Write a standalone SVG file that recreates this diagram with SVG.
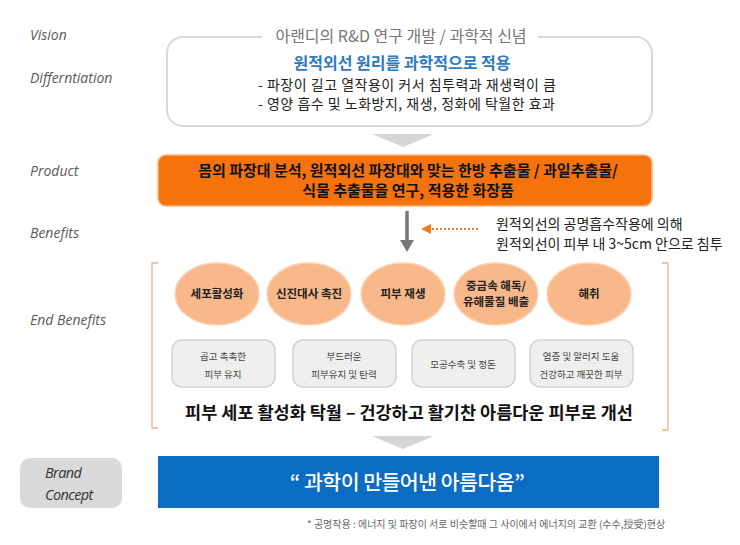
<svg xmlns="http://www.w3.org/2000/svg" width="740" height="545" viewBox="0 0 740 545">
<defs>
<style>
.kr{font-family:"Noto Sans CJK KR","Noto Sans",sans-serif}
.lab{font-family:"Open Sans","Noto Sans",sans-serif;font-style:italic;font-size:14px;fill:#5a5a5a}
.circ{fill:#f8b889;stroke:#fad2b4;stroke-width:1.5}
.ctext{font-family:"Noto Sans CJK KR",sans-serif;font-size:11.5px;font-weight:700;fill:#222;text-anchor:middle}
.gbox{fill:#efefef;stroke:#d2d2d2;stroke-width:1.5}
.gtext{font-family:"Noto Sans CJK KR",sans-serif;font-size:9.5px;fill:#444;text-anchor:middle}
.tri{fill:#d6d6d6}
.brk{fill:none;stroke:#eab48c;stroke-width:1.3}
</style>
<marker id="ah" viewBox="0 0 10 10" refX="9" refY="5" markerWidth="5" markerHeight="5" orient="auto">
<path d="M0,0 L10,5 L0,10 z" fill="#f07a1e"/>
</marker>
</defs>
<rect width="740" height="545" fill="#ffffff"/>

<g id="labels">
<text class="lab" x="30" y="40">Vision</text>
<text class="lab" x="30" y="83">Differntiation</text>
<text class="lab" x="30" y="176">Product</text>
<text class="lab" x="30" y="238">Benefits</text>
<text class="lab" x="30" y="325">End Benefits</text>
</g>

<g id="vision">
<rect x="167" y="37" width="485" height="89" rx="16" fill="#fff" stroke="#d9d9d9" stroke-width="2"/>
<rect x="262" y="28" width="276" height="16" fill="#fff"/>
<text class="kr" x="401" y="42" font-size="16" fill="#777" text-anchor="middle">아랜디의 R&amp;D 연구 개발 / 과학적 신념</text>
<text class="kr" x="402" y="69" font-size="16" font-weight="700" fill="#2e7bc0" text-anchor="middle">원적외선 원리를 과학적으로 적용</text>
<text class="kr" x="258" y="90" font-size="14" fill="#222" letter-spacing="0.5">- 파장이 길고 열작용이 커서 침투력과 재생력이 큼</text>
<text class="kr" x="258" y="109" font-size="14" fill="#222" letter-spacing="0.5">- 영양 흡수 및 노화방지, 재생, 정화에 탁월한 효과</text>
</g>

<g id="connectors">
<polygon class="tri" points="372,134 434,134 403,147"/>
<line x1="407" y1="211" x2="407" y2="242" stroke="#777" stroke-width="3.5"/>
<polygon points="400,240 414,240 407,252" fill="#777"/>
<line x1="478" y1="229" x2="422" y2="229" stroke="#f07a1e" stroke-width="2" stroke-dasharray="2,2" marker-end="url(#ah)"/>
<polygon class="tri" points="372,436 434,436 403,449"/>
</g>

<g id="product">
<rect x="158" y="155" width="494" height="51" rx="8" fill="#f5720c" stroke="#f9b688" stroke-width="1.5"/>
<text class="kr" x="408" y="176" font-size="15" font-weight="700" fill="#111" text-anchor="middle">몸의 파장대 분석, 원적외선 파장대와 맞는 한방 추출물 / 과일추출물/</text>
<text class="kr" x="408" y="196" font-size="15" font-weight="700" fill="#111" text-anchor="middle">식물 추출물을 연구, 적용한 화장품</text>
</g>

<g id="benefit-note">
<text class="kr" x="496" y="229" font-size="14" fill="#222">원적외선의 공명흡수작용에 의해</text>
<text class="kr" x="496" y="249" font-size="14" fill="#222">원적외선이 피부 내 3~5cm 안으로 침투</text>
</g>

<g id="bracket">
<path class="brk" d="M158,263 L152,263 L152,428 L158,428"/>
<path class="brk" d="M662,263 L668,263 L668,430 L662,430"/>
</g>

<g id="end-benefits">
<g id="c1"><ellipse class="circ" cx="217" cy="294" rx="42" ry="31"/><text class="ctext" x="217" y="298">세포활성화</text></g>
<g id="c2"><ellipse class="circ" cx="309" cy="294" rx="42" ry="31"/><text class="ctext" x="309" y="298">신진대사 촉진</text></g>
<g id="c3"><ellipse class="circ" cx="403" cy="294" rx="42" ry="31"/><text class="ctext" x="403" y="298">피부 재생</text></g>
<g id="c4"><ellipse class="circ" cx="496" cy="294" rx="42" ry="31"/><text class="ctext" x="496" y="290">중금속 해독/</text><text class="ctext" x="496" y="306">유해물질 배출</text></g>
<g id="c5"><ellipse class="circ" cx="589" cy="294" rx="42" ry="31"/><text class="ctext" x="589" y="298">해취</text></g>

<g id="b1"><rect class="gbox" x="172" y="340" width="103" height="47" rx="10"/><text class="gtext" x="223" y="360">곱고 촉촉한</text><text class="gtext" x="223" y="378">피부 유지</text></g>
<g id="b2"><rect class="gbox" x="293" y="340" width="103" height="47" rx="10"/><text class="gtext" x="344" y="360">부드러운</text><text class="gtext" x="344" y="378">피부유지 및 탄력</text></g>
<g id="b3"><rect class="gbox" x="412" y="340" width="103" height="47" rx="10"/><text class="gtext" x="463" y="368">모공수축 및 정돈</text></g>
<g id="b4"><rect class="gbox" x="530" y="340" width="103" height="47" rx="10"/><text class="gtext" x="581" y="360">염증 및 알러지 도움</text><text class="gtext" x="581" y="378">건강하고 깨끗한 피부</text></g>

<text class="kr" x="409" y="419" font-size="17.5" font-weight="700" fill="#111" text-anchor="middle">피부 세포 활성화 탁월 – 건강하고 활기찬 아름다운 피부로 개선</text>
</g>

<g id="brand-label">
<rect x="20" y="458" width="102" height="50" rx="10" fill="#d9d9d9"/>
<text x="45" y="478" font-family="Open Sans, sans-serif" font-style="italic" font-size="14.5" fill="#333" letter-spacing="-0.6">Brand</text>
<text x="45" y="500" font-family="Open Sans, sans-serif" font-style="italic" font-size="14.5" fill="#333" letter-spacing="-0.6">Concept</text>
</g>

<g id="brand-concept">
<rect x="158" y="456" width="501" height="52" fill="#0b6cc3"/>
<text class="kr" x="407" y="490" font-size="20.5" font-weight="500" fill="#fff" text-anchor="middle" letter-spacing="-0.5">“ 과학이 만들어낸 아름다움”</text>
</g>

<g id="footnote">
<text class="kr" x="307" y="528" font-size="10" fill="#666">* 공명작용 : 에너지 및 파장이 서로 비슷할때 그 사이에서 에너지의 교환 (수수,授受)현상</text>
</g>
</svg>
